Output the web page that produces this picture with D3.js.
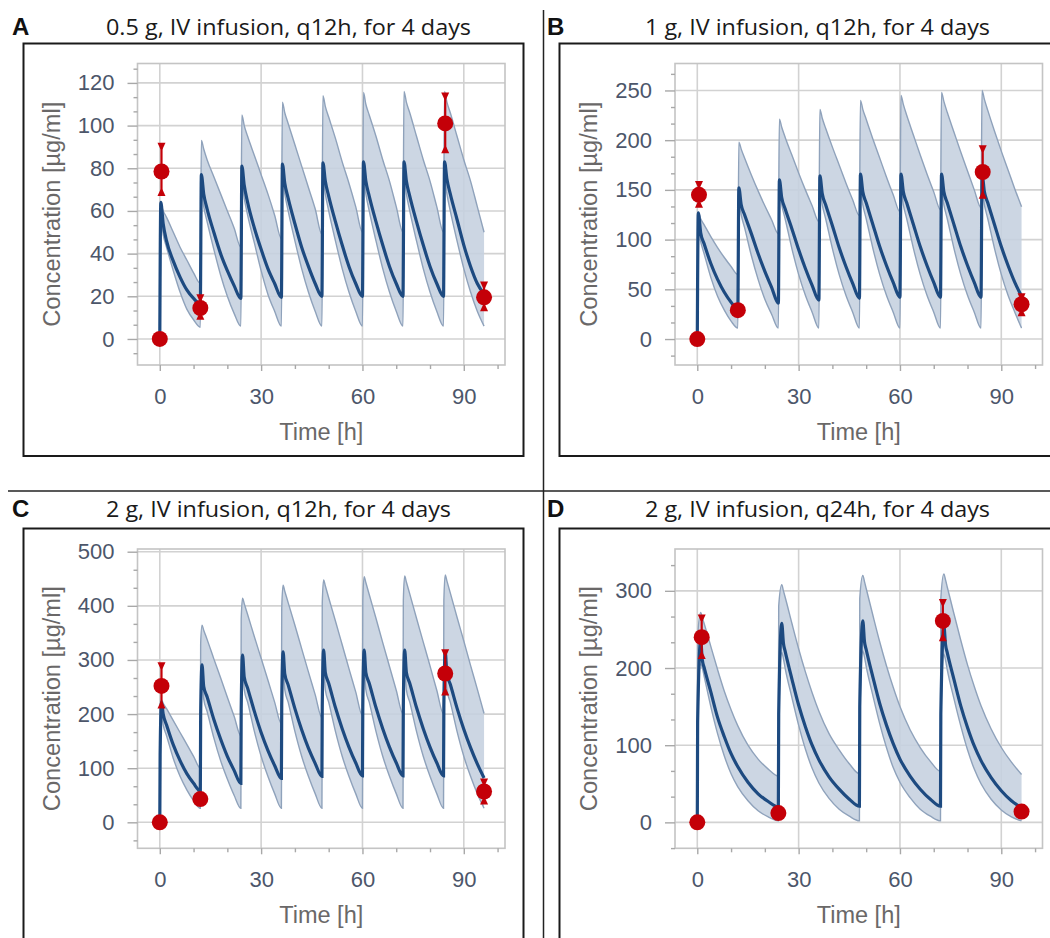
<!DOCTYPE html>
<html>
<head>
<meta charset="utf-8">
<script src="https://cdn.jsdelivr.net/npm/d3@7"></script>
<style>
  body { margin: 0; background: #fff; }
  svg { display: block; }
</style>
</head>
<body>
<div id="chart"></div>
<script>
// ---------- data ----------
const doseTimesQ12 = [0, 12, 24, 36, 48, 60, 72, 84];
const doseTimesQ24 = [0, 24, 48, 72];

// hours after each dose at which the curves were read
const offsetsAB = [0.3, 1, 2, 4, 6, 8, 10, 12];
const offsetsC  = [0.1, 0.5, 1, 2, 4, 6, 8, 10, 12];
const offsetsD  = [0.1, 1, 1.5, 2, 4, 6, 8, 10, 12, 15, 18, 21, 24];

// A: 0.5 g q12h
const medianA = [
  [64, 54, 46, 36.5, 29, 23, 19, 16.5],
  [77, 68, 61, 50, 40, 32, 25, 19],
  [81, 72, 64, 52, 42, 33, 26, 19.5],
  [82, 73, 66, 54, 43, 34, 26, 20],
  [82.5, 74, 67, 55, 44, 34, 26, 20],
  [83, 74, 67, 55, 44, 34, 26, 20],
  [83, 74, 67, 55, 44, 34, 26, 20],
  [83, 75, 68, 56, 44, 34, 26, 21]
];
const upperA = [
  [63, 60, 57, 50, 43, 37, 31, 26],
  [93, 89, 84, 76, 68, 60, 52, 43],
  [105, 100, 95, 86, 77, 68, 58, 47],
  [111, 106, 101, 91, 81, 71, 61, 49],
  [114, 109, 104, 94, 83, 73, 62, 50],
  [115.5, 110, 105, 95, 84, 74, 62, 50],
  [116, 111, 106, 95, 84, 74, 62, 50],
  [116, 111, 106, 95, 84, 74, 62, 50]
];
const lowerA = [
  [58, 49, 43, 32, 22, 14, 9, 5.5],
  [70, 62, 55, 42, 30, 20, 12, 6],
  [74, 66, 58, 45, 32, 21, 13, 6],
  [76, 68, 60, 46, 33, 22, 13, 6],
  [76, 68, 60, 46, 33, 22, 13, 6],
  [76, 68, 60, 46, 33, 22, 13, 6],
  [76, 68, 60, 46, 33, 22, 13, 6],
  [76, 68, 60, 46, 33, 22, 13, 6]
];
const obsTimeA = [0, 0.5, 12, 84.5, 96];
const obsConcA = [0, 78.5, 14.5, 101, 19.5];
const obsLowA  = [null, 67.5, 9.5, 87.5, 13.5];
const obsHighA = [null, 91.5, 20.5, 115, 26.5];

// B: 1 g q12h
const medianB = [
  [127, 107, 96, 76, 60, 47, 37, 30],
  [152, 135, 125, 106, 86, 68, 52, 36],
  [160, 142, 131, 111, 90, 71, 54, 39],
  [164, 146, 135, 114, 92, 73, 56, 41],
  [166, 148, 137, 115, 93, 74, 57, 42],
  [166, 148, 137, 115, 93, 74, 57, 42],
  [166, 148, 137, 115, 93, 74, 57, 42],
  [166, 148, 137, 115, 93, 74, 57, 43]
];
const upperB = [
  [127, 121, 115, 103, 92, 82, 73, 65],
  [198, 191, 182, 165, 149, 134, 120, 106],
  [221, 213, 203, 185, 167, 150, 134, 118],
  [231, 222, 212, 193, 175, 157, 140, 124],
  [240, 231, 221, 201, 182, 163, 145, 128],
  [245, 236, 225, 205, 185, 166, 148, 130],
  [248, 239, 228, 208, 188, 169, 150, 132],
  [250, 241, 230, 209, 189, 170, 151, 133]
];
const lowerB = [
  [110, 98, 86, 62, 43, 29, 18, 11],
  [140, 125, 112, 84, 60, 40, 25, 11],
  [150, 135, 121, 91, 65, 44, 27, 11],
  [150, 135, 121, 91, 65, 44, 27, 11],
  [150, 135, 121, 91, 65, 44, 27, 11],
  [150, 135, 121, 91, 65, 44, 27, 11],
  [150, 135, 121, 91, 65, 44, 27, 11],
  [150, 135, 121, 91, 65, 44, 27, 11]
];
const obsTimeB = [0, 0.5, 12, 84.5, 96];
const obsConcB = [0, 145, 29, 168, 35];
const obsLowB  = [null, 133, null, 142, 24];
const obsHighB = [null, 158, null, 194, 45];

// C: 2 g q12h
const medianC = [
  [125, 222, 200, 180, 143, 114, 90, 72, 58],
  [200, 291, 251, 232, 190, 154, 122, 96, 72],
  [210, 309, 268, 248, 205, 166, 133, 105, 81],
  [215, 315, 274, 254, 210, 171, 137, 109, 85],
  [215, 318, 277, 257, 212, 173, 139, 110, 86],
  [215, 318, 277, 257, 212, 173, 139, 110, 86],
  [215, 318, 277, 257, 212, 173, 139, 110, 86],
  [215, 315, 275, 255, 211, 172, 138, 108, 82]
];
const upperC = [
  [200, 226, 220, 210, 188, 166, 144, 122, 100],
  [330, 364, 355, 338, 302, 267, 231, 196, 160],
  [375, 414, 404, 384, 343, 303, 263, 222, 182],
  [395, 438, 427, 406, 364, 321, 278, 236, 193],
  [405, 448, 437, 415, 372, 328, 284, 241, 197],
  [410, 454, 443, 421, 377, 332, 288, 244, 200],
  [410, 455, 444, 422, 377, 333, 289, 244, 200],
  [410, 457, 446, 424, 379, 335, 290, 246, 201]
];
const lowerC = [
  [110, 200, 180, 160, 118, 85, 60, 40, 26],
  [180, 265, 228, 205, 156, 114, 80, 50, 26],
  [190, 280, 245, 222, 168, 122, 85, 53, 26],
  [190, 280, 245, 222, 168, 122, 85, 53, 26],
  [190, 280, 245, 222, 168, 122, 85, 53, 26],
  [190, 280, 245, 222, 168, 122, 85, 53, 26],
  [190, 280, 245, 222, 168, 122, 85, 53, 26],
  [190, 280, 245, 222, 168, 122, 85, 53, 26]
];
const obsTimeC = [0, 0.5, 12, 84.5, 96];
const obsConcC = [0, 252, 43, 275, 57];
const obsLowC  = [null, 212, null, 236, 35];
const obsHighC = [null, 294, null, 318, 79];

// D: 2 g q24h
const medianD = [
  [130, 235, 210, 201, 169, 136, 111, 89, 72, 52, 37, 27, 20],
  [140, 258, 232, 222, 186, 152, 124, 100, 81, 59, 43, 30, 21],
  [150, 261, 234, 224, 188, 154, 126, 102, 82, 60, 43, 30, 21],
  [140, 255, 230, 220, 185, 151, 123, 99, 80, 58, 41, 28, 19]
];
const upperD = [
  [240, 272, 265, 258, 228, 198, 170, 146, 125, 100, 82, 69, 60],
  [280, 308, 300, 292, 258, 225, 195, 168, 144, 115, 94, 76, 63],
  [290, 320, 312, 303, 268, 234, 203, 175, 150, 120, 97, 79, 66],
  [290, 322, 314, 305, 270, 236, 204, 176, 151, 121, 97, 78, 62]
];
const lowerD = [
  [120, 205, 200, 190, 150, 115, 86, 63, 46, 28, 15, 7, 2],
  [130, 220, 212, 200, 162, 126, 95, 70, 51, 31, 17, 8, 2],
  [130, 222, 214, 202, 164, 128, 97, 71, 52, 32, 17, 8, 2],
  [130, 218, 210, 198, 160, 125, 94, 69, 50, 30, 16, 7, 2]
];
const obsTimeD = [0, 1.3, 24, 72.7, 96];
const obsConcD = [0, 240, 12, 261, 14];
const obsLowD  = [null, 213, null, 236, null];
const obsHighD = [null, 268, null, 288, null];

// axis ticks
const xMajorTicks = [0, 30, 60, 90];
const xMinorTicks = [10, 20, 40, 50, 70, 80, 100];
const yTicksA = [0, 20, 40, 60, 80, 100, 120];
const yTicksB = [0, 50, 100, 150, 200, 250];
const yTicksC = [0, 100, 200, 300, 400, 500];
const yTicksD = [0, 100, 200, 300];

// ---------- layout ----------
const W = 1050, H = 938;
const plotW = 367.5;
const cols = [
  { box: 23.5, boxW: 500, plotL: 137.5, letterX: 12, titleX: 106 },
  { box: 559.5, boxW: 520, plotL: 675, letterX: 547, titleX: 645 }
];
const rows = [
  { box: 43.5, boxH: 412.5, plotT: 63.5, plotB: 365, base: 34.5 },
  { box: 528.5, boxH: 430, plotT: 549, plotB: 848.3, base: 516.5 }
];

const panels = [
  { letter: "A", title: "0.5 g, IV infusion, q12h, for 4 days", titleLen: 365, col: 0, row: 0,
    doses: doseTimesQ12, offsets: offsetsAB, median: medianA, upper: upperA, lower: lowerA,
    obs: [obsTimeA, obsConcA, obsLowA, obsHighA], yDomain: [-12.2, 129.1], yTicks: yTicksA, minor: 20 / 3 },
  { letter: "B", title: "1 g, IV infusion, q12h, for 4 days", titleLen: 345, col: 1, row: 0,
    doses: doseTimesQ12, offsets: offsetsAB, median: medianB, upper: upperB, lower: lowerB,
    obs: [obsTimeB, obsConcB, obsLowB, obsHighB], yDomain: [-26.1, 277.1], yTicks: yTicksB, minor: 50 / 3 },
  { letter: "C", title: "2 g, IV infusion, q12h, for 4 days", titleLen: 345, col: 0, row: 1,
    doses: doseTimesQ12, offsets: offsetsC, median: medianC, upper: upperC, lower: lowerC,
    obs: [obsTimeC, obsConcC, obsLowC, obsHighC], yDomain: [-48, 505], yTicks: yTicksC, minor: 100 / 3 },
  { letter: "D", title: "2 g, IV infusion, q24h, for 4 days", titleLen: 345, col: 1, row: 1,
    doses: doseTimesQ24, offsets: offsetsD, median: medianD, upper: upperD, lower: lowerD,
    obs: [obsTimeD, obsConcD, obsLowD, obsHighD], yDomain: [-33.6, 354.2], yTicks: yTicksD, minor: 100 / 3 }
];

const svg = d3.select("#chart")
              .append("svg")
              .attr("width", W)
              .attr("height", H);

const tickColor  = "#a8a8a8";
const labelColor = "#4c566a";
const titleColor = "#6a6868";
const red        = "#c40008";

// dividers between the four panels
svg.append("line")
   .attr("x1", 543.5).attr("x2", 543.5).attr("y1", 10).attr("y2", H)
   .attr("stroke", "#222").attr("stroke-width", 1.5);
svg.append("line")
   .attr("x1", 8).attr("x2", W).attr("y1", 491).attr("y2", 491)
   .attr("stroke", "#222").attr("stroke-width", 1.5);

panels.forEach(p => {
    const c = cols[p.col], r = rows[p.row];

    // outer box, letter and title
    svg.append("rect")
       .attr("x", c.box).attr("y", r.box)
       .attr("width", c.boxW).attr("height", r.boxH)
       .attr("fill", "none").attr("stroke", "#1a1a1a").attr("stroke-width", 2);

    svg.append("text")
       .attr("x", c.letterX).attr("y", r.base)
       .style("font-family", "'Liberation Sans', Arial, sans-serif")
       .style("font-weight", "bold").style("font-size", "24px")
       .attr("fill", "#111")
       .text(p.letter);

    svg.append("text")
       .attr("x", c.titleX).attr("y", r.base)
       .attr("textLength", p.titleLen).attr("lengthAdjust", "spacingAndGlyphs")
       .style("font-family", "'Open Sans', 'Noto Sans', sans-serif")
       .style("font-size", "21.5px")
       .attr("fill", "#1a1a1a")
       .text(p.title);

    const g = svg.append("g");

    const x = d3.scaleLinear()
                .domain([-6.6, 102.2])
                .range([c.plotL, c.plotL + plotW]);

    const y = d3.scaleLinear()
                .domain(p.yDomain)
                .range([r.plotB, r.plotT]);

    // grid
    g.append("g")
     .selectAll("line")
     .data(p.yTicks)
     .join("line")
     .attr("x1", c.plotL).attr("x2", c.plotL + plotW)
     .attr("y1", d => y(d)).attr("y2", d => y(d))
     .attr("stroke", "#d2d2d2").attr("stroke-width", 1.6);

    g.append("g")
     .selectAll("line")
     .data(xMajorTicks)
     .join("line")
     .attr("x1", d => x(d)).attr("x2", d => x(d))
     .attr("y1", r.plotT).attr("y2", r.plotB)
     .attr("stroke", "#d2d2d2").attr("stroke-width", 1.6);

    g.append("rect")
     .attr("x", c.plotL).attr("y", r.plotT)
     .attr("width", plotW).attr("height", r.plotB - r.plotT)
     .attr("fill", "none").attr("stroke", "#c4c4c4").attr("stroke-width", 1.6);

    // simulated curves
    const med = [{ t: 0, v: 0 }];
    const band = [{ t: 0, lo: 0, hi: 0 }];
    p.doses.forEach((td, k) => {
        p.offsets.forEach((o, i) => {
            med.push({ t: td + o, v: p.median[k][i] });
            band.push({ t: td + o, lo: p.lower[k][i], hi: p.upper[k][i] });
        });
    });

    g.append("path")
     .datum(band)
     .attr("d", d3.area()
                  .curve(d3.curveMonotoneX)
                  .x(d => x(d.t))
                  .y0(d => y(d.lo))
                  .y1(d => y(d.hi)))
     .attr("fill", "#c5d0df")
     .attr("fill-opacity", 0.88);

    ["lo", "hi"].forEach(key => {
        g.append("path")
         .datum(band)
         .attr("d", d3.line()
                      .curve(d3.curveMonotoneX)
                      .x(d => x(d.t))
                      .y(d => y(d[key])))
         .attr("fill", "none")
         .attr("stroke", "#8fa2bb")
         .attr("stroke-width", 1.4);
    });

    g.append("path")
     .datum(med)
     .attr("d", d3.line()
                  .curve(d3.curveMonotoneX)
                  .x(d => x(d.t))
                  .y(d => y(d.v)))
     .attr("fill", "none")
     .attr("stroke", "#1d4a80")
     .attr("stroke-width", 3.2);

    // observed means with error bars
    const [ot, oc, olo, ohi] = p.obs;
    const obs = ot.map((t, i) => ({ t: t, v: oc[i], lo: olo[i], hi: ohi[i] }));
    const withErr = obs.filter(d => d.lo !== null);

    g.append("g")
     .selectAll("line")
     .data(withErr)
     .join("line")
     .attr("x1", d => x(d.t)).attr("x2", d => x(d.t))
     .attr("y1", d => y(d.lo)).attr("y2", d => y(d.hi))
     .attr("stroke", red).attr("stroke-width", 2.2);

    g.append("g")
     .selectAll("path")
     .data(withErr.flatMap(d => [{ t: d.t, v: d.hi, dir: 1 }, { t: d.t, v: d.lo, dir: -1 }]))
     .join("path")
     .attr("d", d => {
         const cx = x(d.t), cy = y(d.v), s = d.dir;
         return `M${cx - 4},${cy - s}L${cx + 4},${cy - s}L${cx + 1},${cy + 5.5 * s}L${cx - 1},${cy + 5.5 * s}Z`;
     })
     .attr("fill", red);

    g.append("g")
     .selectAll("circle")
     .data(obs)
     .join("circle")
     .attr("cx", d => x(d.t))
     .attr("cy", d => y(d.v))
     .attr("r", 8)
     .attr("fill", red);

    // axes
    const fontAxis = "'Liberation Sans', Arial, sans-serif";

    const yMinor = d3.range(Math.ceil(p.yDomain[0] / p.minor) * p.minor, p.yDomain[1], p.minor)
                     .filter(v => !p.yTicks.some(t => Math.abs(t - v) < 1e-6));

    g.append("g")
     .attr("transform", `translate(${c.plotL},0)`)
     .call(d3.axisLeft(y).tickValues(yMinor).tickSize(4).tickFormat(""))
     .call(a => a.select(".domain").remove())
     .call(a => a.selectAll("line").attr("stroke", tickColor).attr("stroke-width", 1.4));

    g.append("g")
     .attr("transform", `translate(${c.plotL},0)`)
     .call(d3.axisLeft(y).tickValues(p.yTicks).tickSize(10).tickPadding(13))
     .call(a => a.select(".domain").remove())
     .call(a => a.selectAll("line").attr("stroke", tickColor).attr("stroke-width", 1.4))
     .call(a => a.selectAll("text")
                 .attr("fill", labelColor)
                 .style("font-family", fontAxis)
                 .style("font-size", "22px"));

    g.append("g")
     .attr("transform", `translate(0,${r.plotB})`)
     .call(d3.axisBottom(x).tickValues(xMinorTicks).tickSize(4).tickFormat(""))
     .call(a => a.select(".domain").remove())
     .call(a => a.selectAll("line").attr("stroke", tickColor).attr("stroke-width", 1.4));

    g.append("g")
     .attr("transform", `translate(0,${r.plotB})`)
     .call(d3.axisBottom(x).tickValues(xMajorTicks).tickSize(6))
     .call(a => a.select(".domain").remove())
     .call(a => a.selectAll("line").attr("stroke", tickColor).attr("stroke-width", 1.4))
     .call(a => a.selectAll("text")
                 .attr("y", 38.5).attr("dy", null)
                 .attr("fill", labelColor)
                 .style("font-family", fontAxis)
                 .style("font-size", "22px"));

    // axis titles
    g.append("text")
     .attr("x", c.plotL + plotW / 2).attr("y", r.plotB + 74.5)
     .attr("text-anchor", "middle")
     .attr("fill", titleColor)
     .style("font-family", fontAxis).style("font-size", "23.5px")
     .text("Time [h]");

    g.append("text")
     .attr("transform", `translate(${c.plotL - 78},${(r.plotT + r.plotB) / 2}) rotate(-90)`)
     .attr("text-anchor", "middle")
     .attr("textLength", 225).attr("lengthAdjust", "spacingAndGlyphs")
     .attr("fill", titleColor)
     .style("font-family", fontAxis).style("font-size", "23.5px")
     .text("Concentration [µg/ml]");
});
</script>
</body>
</html>
